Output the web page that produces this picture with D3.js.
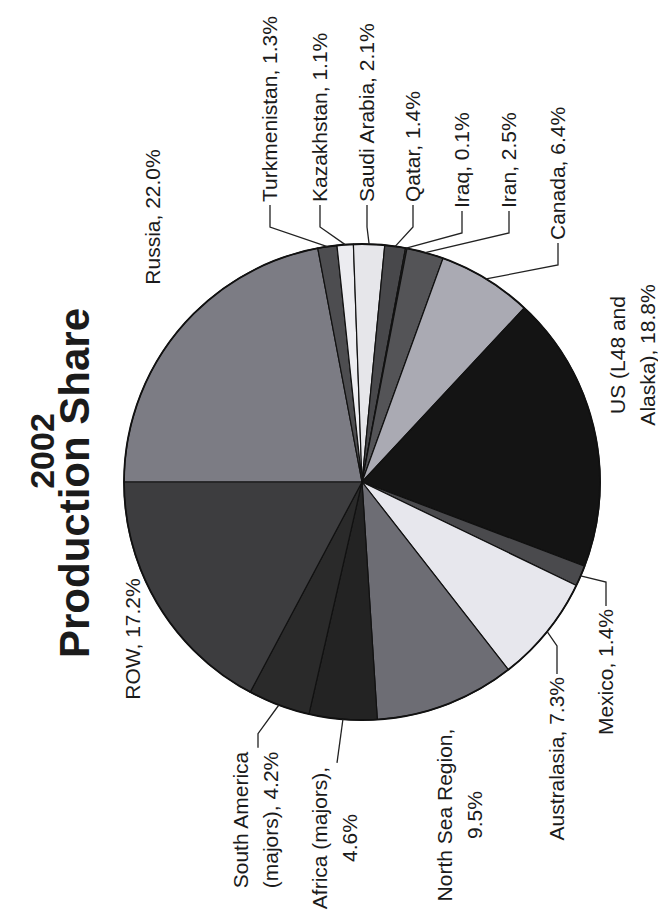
<!DOCTYPE html>
<html>
<head>
<meta charset="utf-8">
<script src="https://cdnjs.cloudflare.com/ajax/libs/d3/7.8.5/d3.min.js"></script>
<style>
  html, body { margin: 0; padding: 0; background: #fff; }
  svg { display: block; }
  text { font-family: "Liberation Sans", Arial, sans-serif; fill: #1b1b1b; }
</style>
</head>
<body>
<div class="pie-container"></div>
<script>
// 2002 production share, clockwise from Russia
const regions = ["Russia", "Turkmenistan", "Kazakhstan", "Saudi Arabia", "Qatar", "Iraq", "Iran",
    "Canada", "US (L48 and Alaska)", "Mexico", "Australasia", "North Sea Region",
    "Africa (majors)", "South America (majors)", "ROW"];
const shares = [22.0, 1.3, 1.1, 2.1, 1.4, 0.1, 2.5, 6.4, 18.8, 1.4, 7.3, 9.5, 4.6, 4.2, 17.2];
const titleLines = ["2002", "Production Share"];

const fills = ["#7c7c84", "#4d4d50", "#ececf0", "#e6e6ea", "#48484b", "#3a3a3a", "#545457",
    "#aaaab3", "#141414", "#4a4a4d", "#e7e7ed", "#6d6d74", "#232323", "#2a2a2a", "#3d3d3f"];

const width = 658;
const height = 917;

// the whole chart lies on its side: we draw in a 917 x 658 frame and turn it
const cx = 435, cy = 362, radius = 238;
const fontSize = 21;
const lineGap = 30;

// title lines: centre, baseline, size (un-rotated frame)
const titleLayout = [
    { x: 466, y: 54, size: 34 },
    { x: 434, y: 89, size: 42 },
];

// label layout in the un-rotated frame
const layout = {
    "Russia":                 { x: 700, y: 160, anchor: "middle" },
    "Turkmenistan":           { x: 715, y: 277, anchor: "start", leader: -22 },
    "Kazakhstan":             { x: 715, y: 327, anchor: "start", leader: -22 },
    "Saudi Arabia":           { x: 715, y: 374, anchor: "start", leader: -22 },
    "Qatar":                  { x: 715, y: 420, anchor: "start", leader: -22 },
    "Iraq":                   { x: 709, y: 469, anchor: "start", leader: -22 },
    "Iran":                   { x: 709, y: 516, anchor: "start", leader: -22 },
    "Canada":                 { x: 677, y: 565, anchor: "start", leader: -22 },
    "US (L48 and Alaska)":    { x: 562, y: 625, anchor: "middle", breakAfter: 3 },
    "Mexico":                 { x: 308, y: 613, anchor: "end", leader: 24 },
    "Australasia":            { x: 240, y: 564, anchor: "end", leader: 28 },
    "North Sea Region":       { x: 102, y: 452, anchor: "middle", breakAfter: 3 },
    "Africa (majors)":        { x: 79,  y: 327, anchor: "middle", breakAfter: 2, leader: 0 },
    "South America (majors)": { x: 97,  y: 248, anchor: "middle", breakAfter: 2, leader: 14 },
    "ROW":                    { x: 278, y: 140, anchor: "middle" },
};

const svg = d3.select(".pie-container")
    .append("svg")
    .attr("width", width)
    .attr("height", height);

const g = svg.append("g")
    .attr("transform", `translate(0,${height}) rotate(-90)`);

const data = regions.map((name, i) => ({ name, share: shares[i] }));

const pie = d3.pie().sort(null).value(d => d.share);
const arcs = pie(data);
const arc = d3.arc().innerRadius(0).outerRadius(radius);
const rim = d3.arc().innerRadius(radius).outerRadius(radius);

const color = d3.scaleOrdinal().domain(regions).range(fills);

// 扇形
const pieG = g.append("g").attr("transform", `translate(${cx},${cy})`);

pieG.selectAll("path")
    .data(arcs)
    .join("path")
    .attr("d", arc)
    .attr("fill", d => color(d.data.name))
    .attr("stroke", "#111")
    .attr("stroke-width", 1.2)
    .attr("stroke-linejoin", "round");

pieG.append("circle")
    .attr("r", radius)
    .attr("fill", "none")
    .attr("stroke", "#111")
    .attr("stroke-width", 1.8);

// 標題
g.append("g")
    .selectAll("text")
    .data(titleLines)
    .join("text")
    .attr("x", (d, i) => titleLayout[i].x)
    .attr("y", (d, i) => titleLayout[i].y)
    .attr("text-anchor", "middle")
    .style("font-size", (d, i) => `${titleLayout[i].size}px`)
    .style("font-weight", "bold")
    .text(d => d);

// 標籤 + 引線
const labelG = g.append("g");
const leaderG = g.append("g");

arcs.forEach(d => {
    const lay = layout[d.data.name];
    const words = `${d.data.name}, ${d.data.share.toFixed(1)}%`.split(" ");
    const lines = lay.breakAfter
        ? [words.slice(0, lay.breakAfter).join(" "), words.slice(lay.breakAfter).join(" ")]
        : [words.join(" ")];

    const texts = lines.map((line, i) => labelG.append("text")
        .attr("x", lay.x)
        .attr("y", lay.y + i * lineGap)
        .attr("text-anchor", lay.anchor)
        .style("font-size", `${fontSize}px`)
        .text(line));

    if (lay.leader === undefined) return;

    const w = d3.max(texts, t => t.node().getComputedTextLength());
    let ax;
    if (lay.anchor === "start") ax = lay.x - 3;
    else if (lay.anchor === "end") ax = lay.x + 3;
    else ax = lay.x + w / 2 + 4;
    const ay = lines.length === 1 ? lay.y - 7 : lay.y + 10;

    const [ex, ey] = rim.centroid(d);
    const pts = [[ax, ay], [ax + lay.leader, ay], [cx + ex, cy + ey]];

    leaderG.append("path")
        .attr("d", d3.line()(pts))
        .attr("fill", "none")
        .attr("stroke", "#222")
        .attr("stroke-width", 1.3);
});
</script>
</body>
</html>
